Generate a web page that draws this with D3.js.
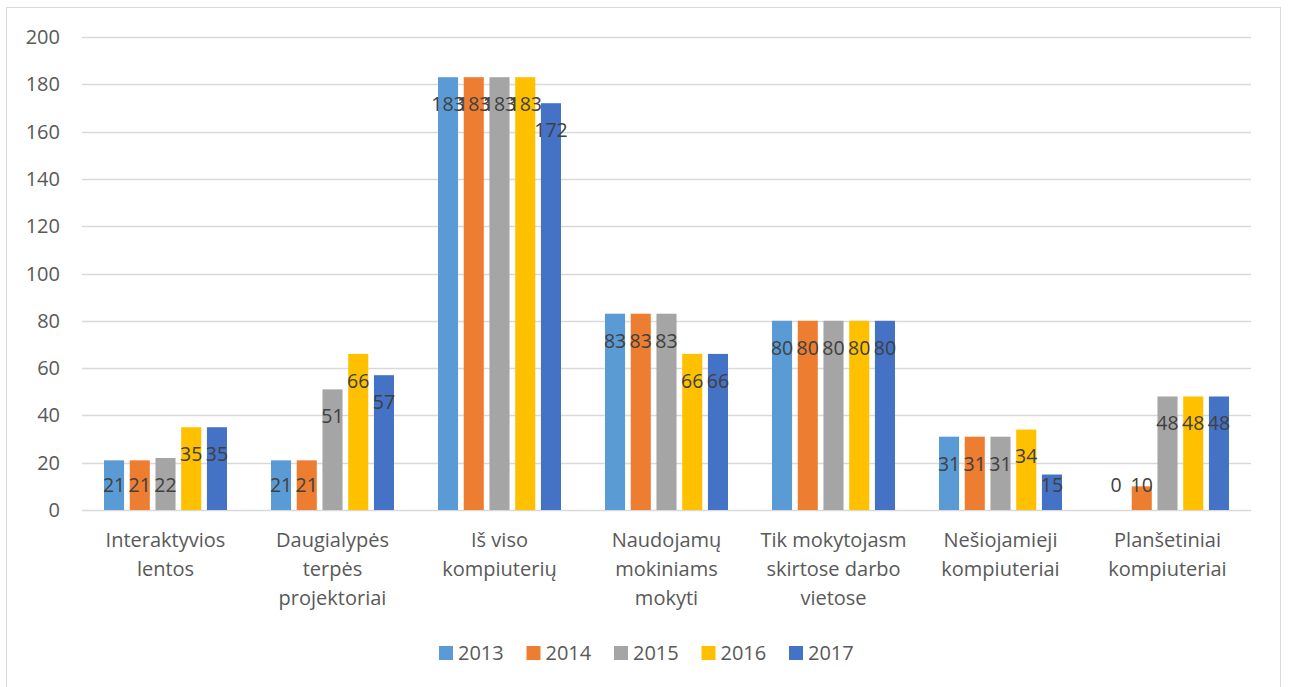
<!DOCTYPE html>
<html>
<head>
<meta charset="utf-8">
<script src="https://cdn.jsdelivr.net/npm/d3@7"></script>
<style>
  body { margin: 0; background: #fff; }
  text { font-family: "Open Sans", "Noto Sans", sans-serif; }
</style>
</head>
<body>
<svg width="1289" height="687"></svg>
<script>
// categories and series
const categories = [
  ["Interaktyvios", "lentos"],
  ["Daugialypės", "terpės", "projektoriai"],
  ["Iš viso", "kompiuterių"],
  ["Naudojamų", "mokiniams", "mokyti"],
  ["Tik mokytojasm", "skirtose darbo", "vietose"],
  ["Nešiojamieji", "kompiuteriai"],
  ["Planšetiniai", "kompiuteriai"]
];
const years = ["2013", "2014", "2015", "2016", "2017"];
const v2013 = [21, 21, 183, 83, 80, 31, 0];
const v2014 = [21, 21, 183, 83, 80, 31, 10];
const v2015 = [22, 51, 183, 83, 80, 31, 48];
const v2016 = [35, 66, 183, 66, 80, 34, 48];
const v2017 = [35, 57, 172, 66, 80, 15, 48];
const yTicks = [0, 20, 40, 60, 80, 100, 120, 140, 160, 180, 200];

const series = [v2013, v2014, v2015, v2016, v2017];
const colors = ["#5b9bd5", "#ed7d31", "#a5a5a5", "#ffc000", "#4472c4"];

const svg = d3.select("svg");

// outer chart border
svg.append("rect")
  .attr("x", 6.5).attr("y", 7.5)
  .attr("width", 1274).attr("height", 690)
  .attr("fill", "none").attr("stroke", "#d9d9d9");

const plotLeft = 82, plotRight = 1251, plotTop = 37, plotBottom = 510;

const x0 = d3.scaleBand()
  .domain(d3.range(categories.length))
  .range([plotLeft, plotRight]);
const x1 = d3.scaleBand()
  .domain(d3.range(years.length))
  .range([22, x0.bandwidth() - 22])
  .paddingInner(0.22);
const y = d3.scaleLinear().domain([0, 200]).range([plotBottom, plotTop]);

// gridlines
svg.append("g")
  .selectAll("line")
  .data(yTicks)
  .enter()
  .append("line")
  .attr("x1", plotLeft).attr("x2", plotRight)
  .attr("y1", (d) => Math.round(y(d)) + 0.5)
  .attr("y2", (d) => Math.round(y(d)) + 0.5)
  .attr("stroke", "#d9d9d9")
  .attr("stroke-width", 1.3);

// y tick labels
svg.append("g")
  .selectAll("text")
  .data(yTicks)
  .enter()
  .append("text")
  .attr("x", 60)
  .attr("y", (d) => y(d))
  .attr("dy", "0.35em")
  .attr("text-anchor", "end")
  .attr("font-size", 20)
  .attr("fill", "#595959")
  .text((d) => d);

// bars per category
const groups = svg.append("g")
  .selectAll("g")
  .data(categories)
  .enter()
  .append("g")
  .attr("transform", (d, i) => `translate(${x0(i)},0)`);

const cells = groups.selectAll("g")
  .data((d, ci) => series.map((s, si) => ({ si: si, v: s[ci] })))
  .enter()
  .append("g");

cells.append("rect")
  .attr("x", (d) => x1(d.si))
  .attr("width", x1.bandwidth())
  .attr("y", (d) => y(d.v))
  .attr("height", (d) => y(0) - y(d.v))
  .attr("fill", (d) => colors[d.si]);

// value labels, inside end (clamped near base for short bars)
cells.append("text")
  .attr("x", (d) => x1(d.si) + x1.bandwidth() / 2)
  .attr("y", (d) => Math.min(y(d.v) + 27, y(0) - 25))
  .attr("dy", "0.35em")
  .attr("text-anchor", "middle")
  .attr("font-size", 19.5)
  .attr("fill", "#404040")
  .text((d) => d.v);

// category labels
const catLabels = svg.append("g")
  .selectAll("text")
  .data(categories)
  .enter()
  .append("text")
  .attr("x", (d, i) => x0(i) + x0.bandwidth() / 2)
  .attr("y", 540)
  .attr("text-anchor", "middle")
  .attr("font-size", 20)
  .attr("fill", "#595959");
catLabels.selectAll("tspan")
  .data((d) => d)
  .enter()
  .append("tspan")
  .attr("x", function () { return this.parentNode.getAttribute("x"); })
  .attr("dy", (d, i) => (i === 0 ? "0.35em" : 29))
  .text((d) => d);

// legend
const legend = svg.append("g")
  .selectAll("g")
  .data(years)
  .enter()
  .append("g")
  .attr("transform", (d, i) => `translate(${439 + i * 87.5},653)`);
legend.append("rect")
  .attr("x", 0).attr("y", -7)
  .attr("width", 14).attr("height", 14)
  .attr("fill", (d, i) => colors[i]);
legend.append("text")
  .attr("x", 19)
  .attr("dy", "0.35em")
  .attr("font-size", 20)
  .attr("fill", "#595959")
  .text((d) => d);
</script>
</body>
</html>
